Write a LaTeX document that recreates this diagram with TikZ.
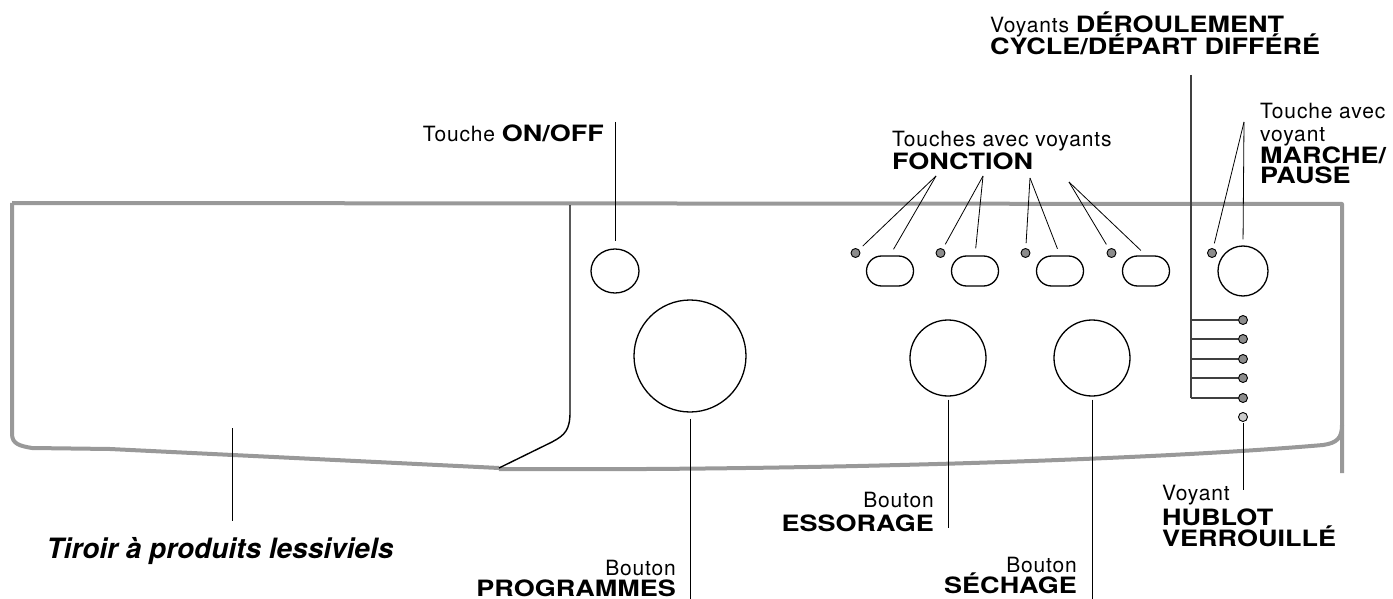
\documentclass[tikz,border=0pt]{standalone}
\usepackage{fontspec}
\setmainfont{TeX Gyre Heros}
\newfontfamily\lightsans[LetterSpace=4]{TeX Gyre Heros}
\newfontfamily\widesans[FakeStretch=1.2]{TeX Gyre Heros}
\usetikzlibrary{shapes.geometric,shapes.misc}

\newcommand{\txtlight}{\lightsans\fontsize{21}{22}\selectfont\mdseries}
\newcommand{\txtbold}{\widesans\fontsize{22.5}{22}\selectfont\bfseries}
\newcommand{\tightlines}{\lineskiplimit=-100pt\relax\lineskip=0pt\relax}

\tikzset{
  panel/.style={draw=black!40, line width=4pt, line join=round},
  knob/.style={circle, draw, line width=1.3pt, inner sep=0pt},
  fkey/.style={rounded rectangle, draw, line width=1.3pt, minimum width=47pt, minimum height=30pt, inner sep=0pt},
  lamp/.style={circle, draw, fill=black!45, line width=0.9pt, minimum size=9pt, inner sep=0pt},
  leader/.style={line width=0.8pt},
  tag/.style={inner sep=0pt, font=\txtlight\tightlines},
}

\begin{document}
\begin{tikzpicture}[x=1pt,y=-1pt]
\useasboundingbox (0,0) rectangle (1393,599);

% panel outline
\draw[panel] (12,203) -- (1342,204) -- (1342,473);
\draw[panel] (12,203) -- (12,434) .. controls (12,444) and (20,446) .. (32,448) -- (110,449) -- (499,468);
\draw[panel] (499,469) .. controls (800,471) and (1150,460) .. (1323,445) .. controls (1337,443) and (1342,438) .. (1342,425);

% drawer
\draw[line width=1.4pt] (570,205) -- (570,412) .. controls (570,430) and (565,435) .. (552,442) -- (499,468);

% buttons and knobs
\node[ellipse, draw, line width=1.3pt, minimum width=48pt, minimum height=44pt, inner sep=0pt] (onoff) at (615,271) {};
\node[knob, minimum size=112pt] (prog) at (690,356) {};
\node[knob, minimum size=76pt] (spin) at (948,358) {};
\node[knob, minimum size=76pt] (dry) at (1092,358) {};
\node[knob, minimum size=50pt] (start) at (1243,271) {};
\node[lamp] (startled) at (1212,253) {};

\foreach \i/\x in {1/890,2/975,3/1060,4/1146}
{
\node[fkey] (key\i) at (\x,271) {};
\node[lamp] (kled\i) at (\x-34.5,253) {};
}

\foreach \i/\y in {1/320,2/339,3/359,4/378,5/398}
{
\node[lamp] (cyc\i) at (1243,\y) {};
}
\node[lamp, fill=black!20] (lock) at (1243,417) {};

% leader ends
\coordinate (onoffTip) at (615,122);
\coordinate (progEnd) at (690,599);
\coordinate (spinEnd) at (948,528);
\coordinate (dryEnd) at (1092,599);
\coordinate (lockEnd) at (1243,490);
\coordinate (cycTop) at (1191,75);
\coordinate (startTip) at (1244,122);
\coordinate (drawerTip) at (232,428);
\coordinate (drawerEnd) at (232,521);
\coordinate (fn1) at (936,176);
\coordinate (fn2) at (983,176);
\coordinate (fn3) at (1030,178);
\coordinate (fn4) at (1069,182);

% leaders
\draw[leader, shorten >=7pt] (onoffTip) -- (onoff.north);
\draw[leader, shorten <=6pt] (prog.south) -- (progEnd);
\draw[leader, shorten <=3pt] (spin.south) -- (spinEnd);
\draw[leader, shorten <=3pt] (dry.south) -- (dryEnd);
\draw[leader, shorten <=1pt] (lock) -- (lockEnd);
\draw[leader] (drawerTip) -- (drawerEnd);
\draw[leader, shorten >=6pt] (startTip) -- (start.north);
\draw[leader, shorten >=5pt] (startTip) -- (startled);
\foreach \i in {1,2,3,4}
{
\draw[leader, shorten >=7pt] (fn\i) -- (key\i.north);
\draw[leader, shorten >=5pt] (fn\i) -- (kled\i);
}
\draw[line width=1.2pt, black!75] (cycTop) -- (cycTop |- cyc5);
\foreach \i in {1,2,3,4,5}
{
\draw[line width=1.2pt, black!75] (cycTop |- cyc\i) -- (cyc\i);
}

% labels
\node[tag, anchor=base east] (onoffTxt) at (604,142) {Touche \txtbold ON/OFF};
\node[tag, anchor=base east, align=right] (progTxt) at (676,596) {Bouton\\[-1pt]\txtbold PROGRAMMES};
\node[tag, anchor=base east, align=right] (spinTxt) at (934,531) {Bouton\\[2pt]\txtbold ESSORAGE};
\node[tag, anchor=base east, align=right] (dryTxt) at (1077,593) {Bouton\\[-1pt]\txtbold SÉCHAGE};
\node[tag, anchor=base west, align=left] (fnTxt) at (892,170) {Touches avec voyants\\[1pt]\txtbold FONCTION};
\node[tag, anchor=base west, align=left] (cycTxt) at (990,55) {Voyants \txtbold DÉROULEMENT\\\txtbold CYCLE/DÉPART DIFFÉRÉ};
\node[tag, anchor=base west, align=left] (startTxt) at (1260,183) {Touche avec\\[1pt]voyant\\\txtbold MARCHE/\\[-2pt]\txtbold PAUSE};
\node[tag, anchor=base west, align=left] (lockTxt) at (1162,546) {Voyant\\[3pt]\txtbold HUBLOT\\[-1pt]\txtbold VERROUILLÉ};
\node[anchor=base, inner sep=0pt, font=\fontsize{28}{30}\selectfont\bfseries\itshape] (drawer) at (220,558) {Tiroir à produits lessiviels};
\end{tikzpicture}
\end{document}
